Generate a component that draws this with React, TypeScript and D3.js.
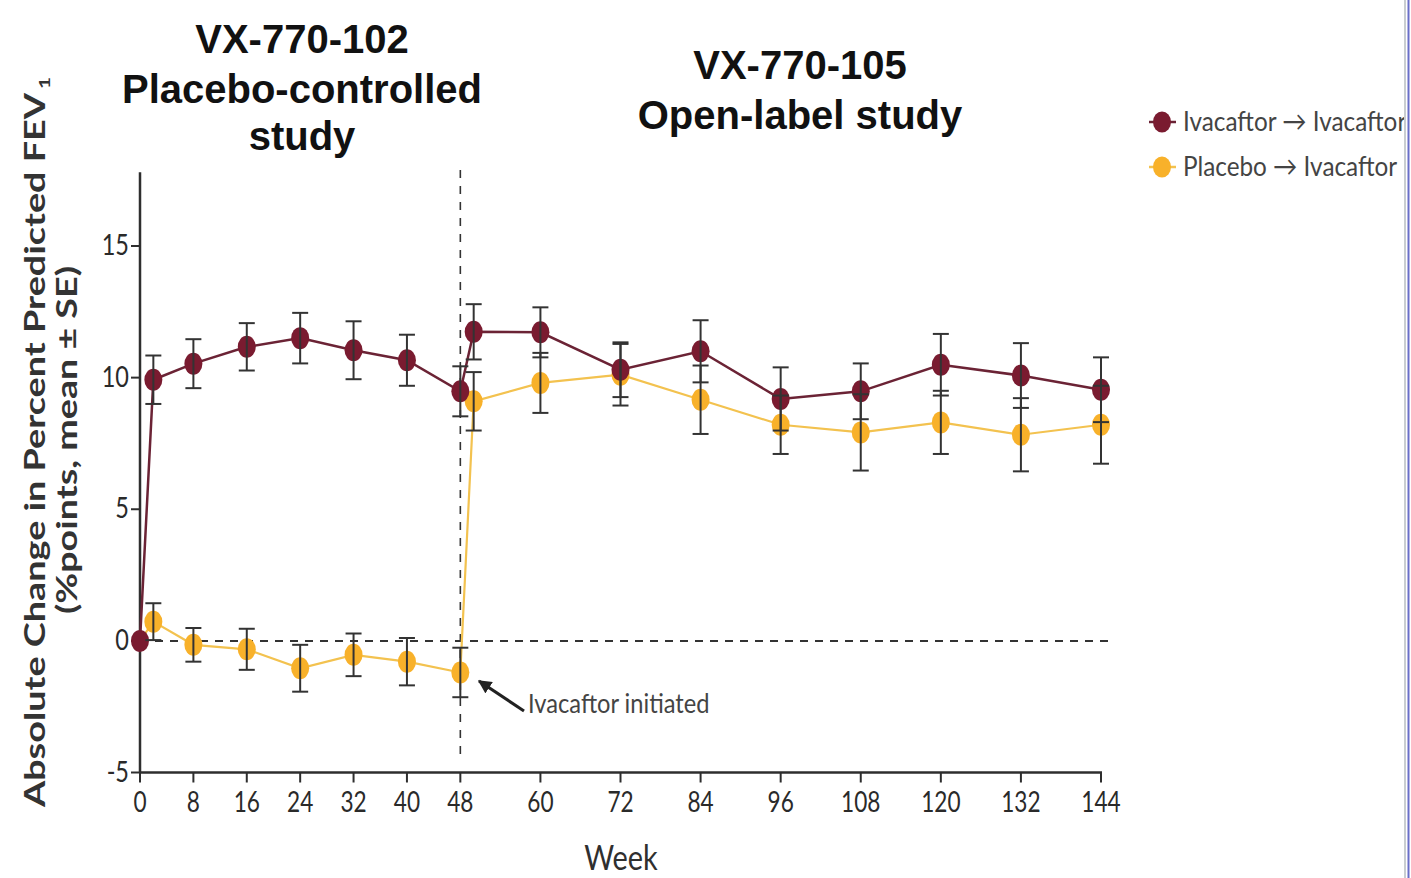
import React from "react";
import * as d3 from "d3";

const weeks = [0, 2, 8, 16, 24, 32, 40, 48, 50, 60, 72, 84, 96, 108, 120, 132, 144];
const ivaMean = [0, 9.92, 10.53, 11.17, 11.5, 11.04, 10.66, 9.48, 11.74, 11.72, 10.3, 11.0, 9.19, 9.48, 10.49, 10.08, 9.54];
const ivaSE = [0, 0.92, 0.93, 0.9, 0.96, 1.1, 0.97, 0.95, 1.05, 0.95, 1.04, 1.18, 1.2, 1.06, 1.17, 1.23, 1.23];
const plaMean = [0, 0.73, -0.15, -0.32, -1.04, -0.53, -0.79, -1.2, 9.1, 9.8, 10.11, 9.16, 8.21, 7.92, 8.3, 7.83, 8.21];
const plaSE = [0, 0.7, 0.64, 0.78, 0.89, 0.81, 0.9, 0.94, 1.11, 1.14, 1.17, 1.3, 1.11, 1.45, 1.2, 1.39, 1.48];
const xTicks = [0, 8, 16, 24, 32, 40, 48, 60, 72, 84, 96, 108, 120, 132, 144];
const yTicks = [-5, 0, 5, 10, 15];
const seriesNames = ["Ivacaftor \u2192 Ivacaftor", "Placebo \u2192 Ivacaftor"];

const MAROON = "#7a1b30";
const MAROON_LINE = "#6b2335";
const YELLOW = "#f8b12a";
const YELLOW_LINE = "#f3c24f";
const AXIS = "#2e2e2e";

const x = d3.scaleLinear().domain([0, 144]).range([140, 1101]);
const y = d3.scaleLinear().domain([-5, 15]).range([772.5, 246]);

function CText({ x: tx, y: ty, sx = 0.85, anchor = "middle", size = 26, fill = "#333", weight = "normal", children }: any) {
  return (
    <text
      transform={`translate(${tx},${ty}) scale(${sx},1)`}
      textAnchor={anchor}
      fontFamily="Lato, 'Noto Sans', sans-serif"
      fontSize={size}
      fill={fill}
      fontWeight={weight}
    >
      {children}
    </text>
  );
}

export default function App() {
  const line = d3
    .line<number>()
    .x((_, i) => x(weeks[i]))
    .y((d) => y(d));

  const errBars = (means: number[], ses: number[], key: string) =>
    means.map((m, i) =>
      ses[i] > 0 ? (
        <g key={key + i} stroke="#333" strokeWidth={2}>
          <line x1={x(weeks[i])} x2={x(weeks[i])} y1={y(m - ses[i])} y2={y(m + ses[i])} />
          <line x1={x(weeks[i]) - 8} x2={x(weeks[i]) + 8} y1={y(m - ses[i])} y2={y(m - ses[i])} />
          <line x1={x(weeks[i]) - 8} x2={x(weeks[i]) + 8} y1={y(m + ses[i])} y2={y(m + ses[i])} />
        </g>
      ) : null
    );

  const points = (means: number[], color: string, key: string, from = 0) =>
    means.map((m, i) =>
      i >= from ? <ellipse key={key + i} cx={x(weeks[i])} cy={y(m)} rx={9} ry={11} fill={color} /> : null
    );

  const yTop = y(17.8);

  return (
    <svg width={1411} height={878} style={{ position: "absolute", left: 0, top: 0, background: "#fff" }}>
      <defs>
        <clipPath id="clipR">
          <rect x={0} y={0} width={1404} height={878} />
        </clipPath>
        <marker id="ah" viewBox="0 0 10 10" refX={9} refY={5} markerWidth={4.5} markerHeight={4.5} orient="auto">
          <path d="M0,0 L10,5 L0,10 z" fill="#222" />
        </marker>
      </defs>
      <rect x={0} y={0} width={1411} height={878} fill="#fff" />

      {/* Titles */}
      <g fontFamily="'Liberation Sans', Arial, sans-serif" fontWeight="bold" fontSize={40} fill="#111" textAnchor="middle">
        <text x={302} y={53}>VX-770-102</text>
        <text x={302} y={103}>Placebo-controlled</text>
        <text x={302} y={150}>study</text>
        <text x={800} y={79}>VX-770-105</text>
        <text x={800} y={129}>Open-label study</text>
      </g>

      {/* Reference lines */}
      <line x1={x(0)} x2={1112} y1={y(0)} y2={y(0)} stroke="#333" strokeWidth={2} strokeDasharray="8,7" />
      <line x1={x(48)} x2={x(48)} y1={170} y2={762} stroke="#333" strokeWidth={1.6} strokeDasharray="8,8" />

      {/* Axes */}
      <line x1={x(0)} x2={x(0)} y1={yTop} y2={y(-5)} stroke={AXIS} strokeWidth={2.5} />
      <line x1={x(0)} x2={x(144) + 1} y1={y(-5)} y2={y(-5)} stroke={AXIS} strokeWidth={2.5} />
      {xTicks.map((t) => (
        <g key={"xt" + t}>
          <line x1={x(t)} x2={x(t)} y1={y(-5)} y2={y(-5) + 10} stroke={AXIS} strokeWidth={2} />
          <CText x={x(t)} y={812} size={29} sx={0.78} fill="#2a2a2a">{t}</CText>
        </g>
      ))}
      {yTicks.map((t) => (
        <g key={"yt" + t}>
          <line x1={x(0) - 9} x2={x(0)} y1={y(t)} y2={y(t)} stroke={AXIS} strokeWidth={2} />
          <CText x={129} y={y(t) + 9} size={28} sx={0.84} anchor="end" fill="#2a2a2a">{t}</CText>
        </g>
      ))}

      {/* Axis titles */}
      <CText x={621} y={870} size={34} sx={0.85} fill="#2f2f2f">Week</CText>
      <g transform="translate(45,442) rotate(-90)">
        <text
          x={0}
          y={0}
          textAnchor="middle"
          fontFamily="Lato, 'Noto Sans', sans-serif"
          fontWeight="bold"
          fontSize={29}
          fill="#333"
          textLength={730}
          lengthAdjust="spacingAndGlyphs"
        >
          Absolute Change in Percent Predicted FEV
          <tspan fontSize={16} dy={5} dx={3}>1</tspan>
        </text>
      </g>
      <g transform="translate(77,440) rotate(-90)">
        <text
          x={0}
          y={0}
          textAnchor="middle"
          fontFamily="Lato, 'Noto Sans', sans-serif"
          fontWeight="bold"
          fontSize={29}
          fill="#333"
          textLength={348}
          lengthAdjust="spacingAndGlyphs"
        >
          (%points, mean ± SE)
        </text>
      </g>

      {/* Series lines */}
      <path d={line(plaMean) || ""} fill="none" stroke={YELLOW_LINE} strokeWidth={2.2} />
      <path d={line(ivaMean) || ""} fill="none" stroke={MAROON_LINE} strokeWidth={2.5} />

      {points(plaMean, YELLOW, "pp", 1)}
      {points(ivaMean, MAROON, "ip")}
      {errBars(ivaMean, ivaSE, "ie")}
      {errBars(plaMean, plaSE, "pe")}

      {/* Annotation */}
      <line x1={524} y1={711} x2={479} y2={681} stroke="#222" strokeWidth={3} markerEnd="url(#ah)" />
      <CText x={528} y={713} size={26} sx={0.91} anchor="start" fill="#444">Ivacaftor initiated</CText>

      {/* Legend */}
      <g clipPath="url(#clipR)">
        {[MAROON, YELLOW].map((c, i) => (
          <g key={"lg" + i}>
            <line x1={1149} x2={1176} y1={122 + i * 45} y2={122 + i * 45} stroke={i === 0 ? MAROON_LINE : YELLOW_LINE} strokeWidth={2.5} />
            <ellipse cx={1162} cy={122 + i * 45} rx={9} ry={10.5} fill={c} />
            <CText x={1183} y={131 + i * 45} size={27} sx={0.9} anchor="start" fill="#444">{seriesNames[i]}</CText>
          </g>
        ))}
      </g>

      {/* Right border lines */}
      <line x1={1405} x2={1405} y1={0} y2={878} stroke="#c9cdd0" strokeWidth={2} />
      <line x1={1408.5} x2={1408.5} y1={0} y2={878} stroke="#6a6fc9" strokeWidth={2} />
    </svg>
  );
}
